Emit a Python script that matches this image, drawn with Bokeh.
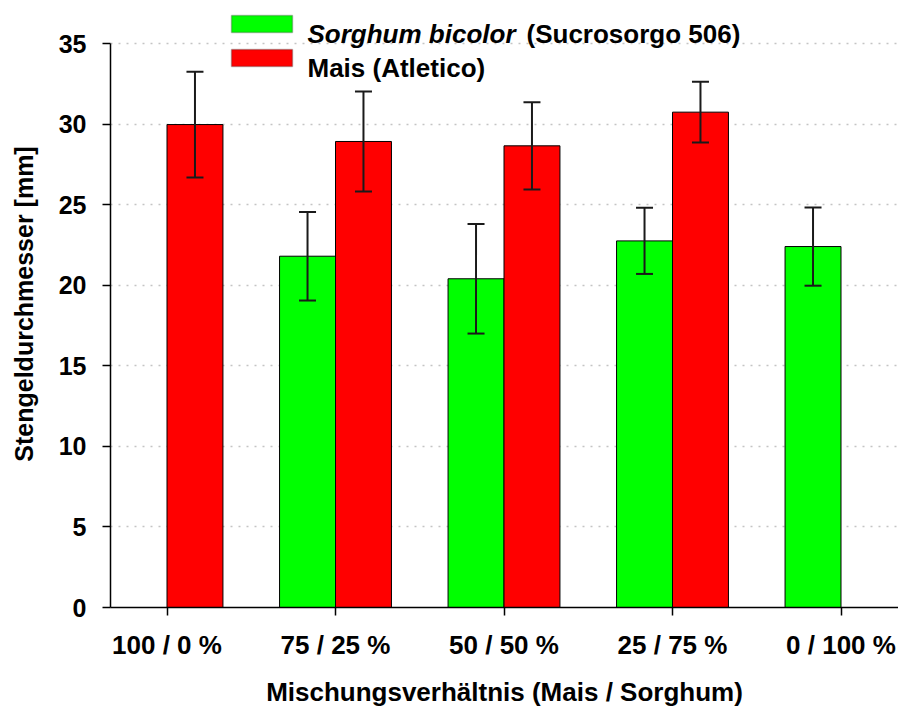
import numpy as np
from bokeh.plotting import figure
from bokeh.models import (ColumnDataSource, Whisker, TeeHead, Label, BoxAnnotation,
                          FixedTicker, Range1d)
from bokeh.embed import file_html
from bokeh.resources import INLINE

# ---- data ----
categories = ["100 / 0 %", "75 / 25 %", "50 / 50 %", "25 / 75 %", "0 / 100 %"]
sorghum_cats = ["75 / 25 %", "50 / 50 %", "25 / 75 %", "0 / 100 %"]
sorghum_mean = [21.8, 20.4, 22.75, 22.4]
sorghum_sd = [2.75, 3.4, 2.05, 2.43]
mais_cats = ["100 / 0 %", "75 / 25 %", "50 / 50 %", "25 / 75 %"]
mais_mean = [29.97, 28.92, 28.65, 30.74]
mais_sd = [3.28, 3.1, 2.71, 1.88]
y_ticks = [0, 5, 10, 15, 20, 25, 30, 35]

FONT = "Liberation Sans"
BAR_W = 0.332

# layout (pixels in the picture)
W, H = 898, 709
LEFT, TOP, BOTTOM = 110, 43, 607
CAT0, CAT_STEP = 166.5, 168.5
PX_PER_Y = (BOTTOM - TOP) / 35.0

pos = {c: i + 1 for i, c in enumerate(categories)}

def make_src(cats, mean, sd, offset):
    x = [pos[c] + offset for c in cats]
    m = np.array(mean)
    s = np.array(sd)
    return ColumnDataSource(dict(x=x, top=m, upper=m + s, lower=m - s))

src_s = make_src(sorghum_cats, sorghum_mean, sorghum_sd, -BAR_W / 2)
src_m = make_src(mais_cats, mais_mean, mais_sd, BAR_W / 2)

def dx(px):
    return 1 + (px - CAT0) / CAT_STEP

def dy(py):
    return (BOTTOM - py) / PX_PER_Y

p = figure(width=W, height=H, output_backend="svg", toolbar_location=None,
           x_range=Range1d(dx(LEFT), dx(W)),
           y_range=Range1d(0, dy(0)),
           min_border_left=LEFT, min_border_right=0, min_border_top=0,
           min_border_bottom=H - BOTTOM)
p.outline_line_color = None

p.vbar(x="x", top="top", width=BAR_W, source=src_s, fill_color="#00ff00",
       line_color="black", line_width=1)
p.vbar(x="x", top="top", width=BAR_W, source=src_m, fill_color="#ff0000",
       line_color="black", line_width=1)

for src in (src_s, src_m):
    w = Whisker(base="x", upper="upper", lower="lower", source=src,
                line_color="#1a1a1a", line_width=2, level="overlay",
                upper_head=TeeHead(size=17, line_width=2, line_color="#1a1a1a"),
                lower_head=TeeHead(size=17, line_width=2, line_color="#1a1a1a"))
    p.add_layout(w)

# axes
p.xaxis.ticker = FixedTicker(ticks=list(range(1, len(categories) + 1)))
p.xaxis.major_label_overrides = {i + 1: c for i, c in enumerate(categories)}
p.yaxis.ticker = FixedTicker(ticks=y_ticks)
p.yaxis.bounds = (0, 35)
for ax in (p.xaxis, p.yaxis):
    ax.major_tick_in = 0
    ax.major_tick_out = 8
    ax.minor_tick_line_color = None
    ax.axis_line_color = "black"
    ax.axis_line_width = 1.5
    ax.major_tick_line_width = 1.5
    ax.major_label_text_font = FONT
    ax.major_label_text_font_style = "bold"
    ax.major_label_text_color = "black"
    ax.axis_label_text_font = FONT
    ax.axis_label_text_font_style = "bold"
    ax.axis_label_text_color = "black"
p.xaxis.major_label_text_font_size = "26px"
p.yaxis.major_label_text_font_size = "25px"
p.xaxis.axis_label_text_font_size = "26px"
p.yaxis.axis_label_text_font_size = "25px"

p.xaxis.axis_label = "Mischungsverhältnis (Mais / Sorghum)"
p.yaxis.axis_label = "Stengeldurchmesser [mm]"
p.xaxis.major_label_standoff = 14
p.xaxis.axis_label_standoff = 14
p.yaxis.major_label_standoff = 16
p.yaxis.axis_label_standoff = 18

p.xgrid.grid_line_color = None
p.ygrid.grid_line_color = "#c4c4c4"
p.ygrid.grid_line_dash = "2 6"
p.ygrid.grid_line_width = 1.5

# legend (swatches + labels)
p.add_layout(BoxAnnotation(left=dx(231), right=dx(292), top=dy(15), bottom=dy(32),
                           fill_color="#00ff00", fill_alpha=1, line_color="#333333",
                           line_width=1.5, level="overlay"))
p.add_layout(BoxAnnotation(left=dx(231), right=dx(292), top=dy(49), bottom=dy(66),
                           fill_color="#ff0000", fill_alpha=1, line_color="#333333",
                           line_width=1.5, level="overlay"))
p.add_layout(Label(x=dx(307), y=dy(33), text="Sorghum bicolor", text_font=FONT,
                   text_font_style="bold italic", text_font_size="26px",
                   text_color="black", text_baseline="alphabetic"))
p.add_layout(Label(x=dx(526), y=dy(33), text="(Sucrosorgo 506)", text_font=FONT,
                   text_font_style="bold", text_font_size="26px",
                   text_color="black", text_baseline="alphabetic"))
p.add_layout(Label(x=dx(307), y=dy(67), text="Mais (Atletico)", text_font=FONT,
                   text_font_style="bold", text_font_size="26px",
                   text_color="black", text_baseline="alphabetic"))

open("out.html", "w").write(file_html(p, INLINE))
